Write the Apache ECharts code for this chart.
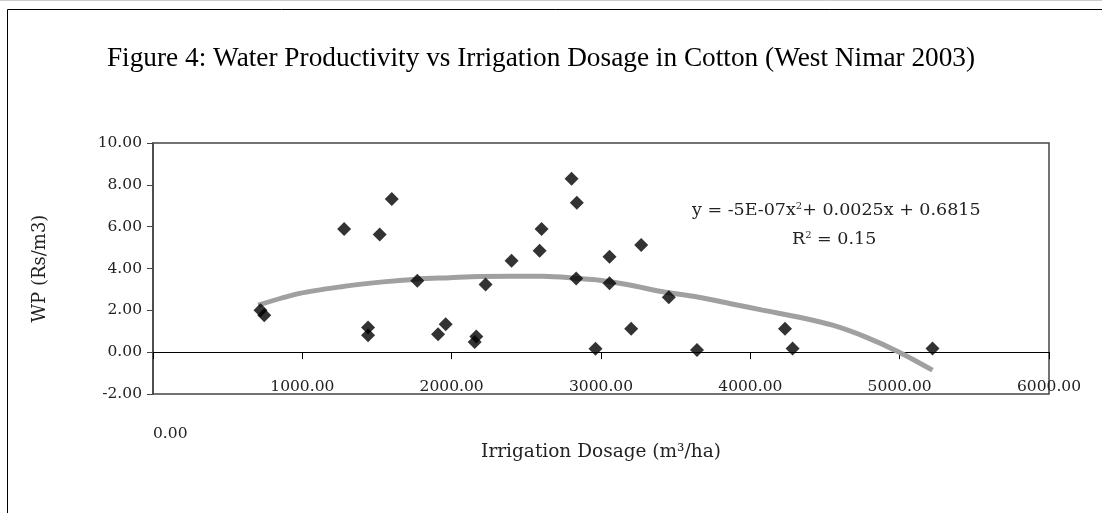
<!DOCTYPE html>
<html>
<head>
<meta charset="utf-8">
<script src="https://cdn.jsdelivr.net/npm/echarts@6/dist/echarts.min.js"></script>
<style>
  html, body { margin: 0; padding: 0; background: #fff; }
  #main { width: 1102px; height: 513px; }
</style>
</head>
<body>
<div id="main"></div>
<script>
// observed points (irrigation dosage m3/ha, water productivity Rs/m3)
const irrigation = [720, 745, 1280, 1599, 1518, 1770, 1440, 1440, 1960, 1909, 2165, 2154, 2227, 2401, 2589, 2602, 2803, 2838, 2834, 2963, 3057, 3057, 3269, 3202, 3454, 3643, 4232, 4283, 5220]
const wp = [2.0, 1.77, 5.89, 7.32, 5.63, 3.41, 1.18, 0.81, 1.34, 0.86, 0.75, 0.49, 3.24, 4.37, 4.85, 5.89, 8.29, 7.14, 3.52, 0.16, 4.56, 3.29, 5.12, 1.12, 2.62, 0.10, 1.12, 0.18, 0.18]

// poly trend line
const trendX = [704, 983, 1251, 1541, 1764, 1987, 2187, 2611, 2856, 2990, 3191, 3413, 3637, 3860, 4082, 4328, 4551, 4774, 4997, 5220]
const trendY = [2.25, 2.81, 3.12, 3.36, 3.49, 3.56, 3.62, 3.63, 3.52, 3.44, 3.21, 2.89, 2.65, 2.33, 2.01, 1.67, 1.29, 0.72, 0.0, -0.86]

const xTicks = { min: 0, max: 6000, interval: 1000 }
const yTicks = { min: -2, max: 10, interval: 2 }

const serif = 'DejaVu Serif'
const fmt = v => v.toFixed(2)

const chart = echarts.init(document.getElementById('main'))
chart.setOption({
  animation: false,
  backgroundColor: '#fff',
  title: {
    text: 'Figure 4: Water Productivity vs Irrigation Dosage in Cotton (West Nimar 2003)',
    left: 536,
    textAlign: 'center',
    top: 40,
    textStyle: { fontFamily: 'Liberation Serif', fontSize: 27.3, fontWeight: 'normal', color: '#000' }
  },
  grid: {
    left: 153, right: 53, top: 143, bottom: 119,
    show: true, borderColor: '#444', borderWidth: 1.5
  },
  xAxis: [
    { // line + ticks sitting on y = 0
      type: 'value', ...xTicks,
      axisLine: { onZero: true, lineStyle: { color: '#000', width: 1 } },
      axisTick: { show: true, inside: false, length: 7, lineStyle: { color: '#000' } },
      axisLabel: { show: false },
      splitLine: { show: false }
    },
    { // labels at the bottom of the plot
      type: 'value', ...xTicks, position: 'bottom',
      axisLine: { show: false, onZero: false },
      axisTick: { show: false },
      splitLine: { show: false },
      axisLabel: {
        showMinLabel: false, margin: -7, verticalAlign: 'middle',
        formatter: fmt, fontFamily: serif, fontSize: 15.5, color: '#222'
      },
      name: 'Irrigation Dosage (m³/ha)',
      nameLocation: 'middle', nameGap: 58,
      nameTextStyle: { fontFamily: serif, fontSize: 18.5, color: '#222', verticalAlign: 'middle' }
    },
    { // the stray 0.00 label
      type: 'value', ...xTicks, position: 'bottom',
      axisLine: { show: false, onZero: false },
      axisTick: { show: false },
      splitLine: { show: false },
      axisLabel: {
        margin: 40, verticalAlign: 'middle', align: 'left',
        formatter: v => v === 0 ? fmt(v) : '',
        fontFamily: serif, fontSize: 15.5, color: '#222'
      }
    }
  ],
  yAxis: {
    type: 'value', ...yTicks,
    axisLine: { show: true, lineStyle: { color: '#444', width: 1.5 } },
    axisTick: { show: true, inside: false, length: 6, lineStyle: { color: '#444' } },
    splitLine: { show: false },
    axisLabel: { formatter: fmt, margin: 11, fontFamily: serif, fontSize: 15.5, color: '#222' },
    name: 'WP (Rs/m3)',
    nameLocation: 'middle', nameGap: 104, nameRotate: 90,
    nameTextStyle: { fontFamily: serif, fontSize: 18, color: '#222' }
  },
  series: [
    {
      type: 'line',
      xAxisIndex: 0,
      data: trendX.map((x, i) => [x, trendY[i]]),
      smooth: 0.3,
      symbol: 'none',
      lineStyle: { color: '#a0a0a0', width: 5 },
      z: 2
    },
    {
      type: 'scatter',
      xAxisIndex: 0,
      data: irrigation.map((x, i) => [x, wp[i]]),
      symbol: 'diamond',
      symbolSize: 14,
      itemStyle: { color: '#000' },
      z: 3
    }
  ],
  graphic: [
    { type: 'rect', shape: { x: 7.5, y: 9.5, width: 1200, height: 600 }, style: { fill: null, stroke: '#000', lineWidth: 1 }, silent: true },
    { type: 'line', shape: { x1: 0, y1: 0.5, x2: 1102, y2: 0.5 }, style: { stroke: '#ccc', lineWidth: 1 }, silent: true },
    {
      type: 'text', left: 692, top: 201,
      style: {
        text: 'y = -5E-07x{s|2}+ 0.0025x + 0.6815',
        font: '17.5px "DejaVu Serif"', fill: '#222',
        rich: { s: { fontSize: 10, verticalAlign: 'top', fontFamily: serif, fill: '#222' } }
      }
    },
    {
      type: 'text', left: 792, top: 230,
      style: {
        text: 'R{s|2} = 0.15',
        font: '17.5px "DejaVu Serif"', fill: '#222',
        rich: { s: { fontSize: 10, verticalAlign: 'top', fontFamily: serif, fill: '#222' } }
      }
    }
  ]
})
</script>
</body>
</html>
